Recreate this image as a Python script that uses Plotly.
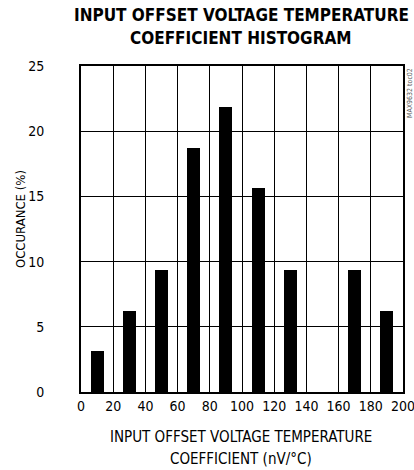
import plotly.graph_objects as go

bin_centers = [10, 30, 50, 70, 90, 110, 130, 150, 170, 190]
occurrence = [3.125, 6.25, 9.375, 18.75, 21.875, 15.625, 9.375, 0, 9.375, 6.25]
x_ticks = [0, 20, 40, 60, 80, 100, 120, 140, 160, 180, 200]
y_ticks = [0, 5, 10, 15, 20, 25]

FONT = "DejaVu Sans Condensed, Liberation Sans Narrow, sans-serif"

fig = go.Figure()
fig.add_trace(go.Bar(x=bin_centers, y=occurrence, width=8,
                     marker=dict(color="black", line=dict(width=0)),
                     showlegend=False, hoverinfo="skip"))

fig.update_layout(
    width=414, height=470,
    margin=dict(l=81, r=11, t=66, b=78, autoexpand=False),
    paper_bgcolor="white", plot_bgcolor="white",
    font=dict(family=FONT, color="black", size=14),
    bargap=0,
)
fig.update_xaxes(range=[0, 200], tickvals=x_ticks, showgrid=True, gridcolor="black",
                 gridwidth=1, zeroline=False, showline=True, linecolor="black",
                 linewidth=2, mirror=True, ticks="", ticklabelstandoff=0,
                 ticklabeloverflow="allow",
                 automargin=False, tickfont=dict(size=14))
fig.update_yaxes(range=[0, 25], tickvals=y_ticks, showgrid=True, gridcolor="black",
                 gridwidth=1, zeroline=False, showline=True, linecolor="black",
                 linewidth=2, mirror=True, ticks="", ticklabelstandoff=32,
                 ticklabeloverflow="allow",
                 automargin=False, tickfont=dict(size=14))

# title lines
fig.add_annotation(text="<b>INPUT OFFSET VOLTAGE TEMPERATURE</b>", x=0.5, xref="paper",
                   xshift=-1, y=1, yref="paper", yshift=51, yanchor="middle",
                   showarrow=False, font=dict(size=17, family=FONT, color="black"))
fig.add_annotation(text="<b>COEFFICIENT HISTOGRAM</b>", x=0.5, xref="paper",
                   xshift=-1, y=1, yref="paper", yshift=28, yanchor="middle",
                   showarrow=False, font=dict(size=17, family=FONT, color="black"))
# x axis title lines
fig.add_annotation(text="INPUT OFFSET VOLTAGE TEMPERATURE", x=0.5, xref="paper",
                   xshift=-1, y=0, yref="paper", yshift=-45, yanchor="middle",
                   showarrow=False, font=dict(size=15, family=FONT, color="black"))
fig.add_annotation(text="COEFFICIENT (nV/°C)", x=0.5, xref="paper",
                   xshift=-1, y=0, yref="paper", yshift=-67, yanchor="middle",
                   showarrow=False, font=dict(size=15, family=FONT, color="black"))
# y axis title
fig.add_annotation(text="OCCURANCE (%)", x=0, xref="paper", xshift=-61,
                   y=0.5, yref="paper", yshift=10, xanchor="center", yanchor="middle",
                   textangle=-90, showarrow=False,
                   font=dict(size=13, family=FONT, color="black"))

fig.add_annotation(text="MAX9632 toc02", x=1.0, xref="paper", xshift=7,
                   y=1.0, yref="paper", yanchor="top", xanchor="center",
                   textangle=-90, showarrow=False,
                   font=dict(size=7, color="#555", family=FONT))

fig.write_html("out.html", config={"displayModeBar": False},
               post_script="document.body.style.margin='0';")
